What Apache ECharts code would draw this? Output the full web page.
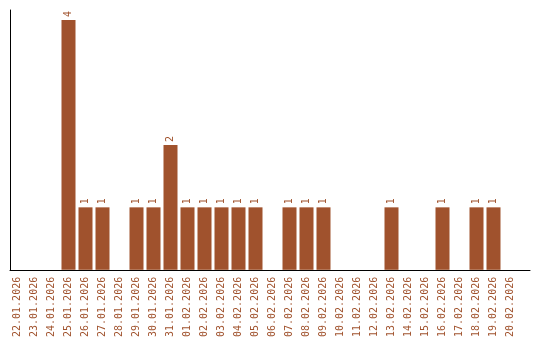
<!DOCTYPE html>
<html><head><meta charset="utf-8">
<script src="https://cdn.jsdelivr.net/npm/echarts@6/dist/echarts.min.js"></script>
<style>html,body{margin:0;padding:0;background:#fff}#c{width:540px;height:340px}</style>
</head><body><div id="c"></div>
<script>
const categories = ["22.01.2026","23.01.2026","24.01.2026","25.01.2026","26.01.2026","27.01.2026","28.01.2026","29.01.2026","30.01.2026","31.01.2026","01.02.2026","02.02.2026","03.02.2026","04.02.2026","05.02.2026","06.02.2026","07.02.2026","08.02.2026","09.02.2026","10.02.2026","11.02.2026","12.02.2026","13.02.2026","14.02.2026","15.02.2026","16.02.2026","17.02.2026","18.02.2026","19.02.2026","20.02.2026"];
const values = [0,0,0,4,1,1,0,1,1,2,1,1,1,1,1,0,1,1,1,0,0,0,1,0,0,1,0,1,1,0];
const color = '#A0522D';
const chart = echarts.init(document.getElementById('c'), null, {renderer:'canvas'});
chart.setOption({
  animation:false,
  grid:[{left:9,right:21,top:10,bottom:70},{left:10,right:10,top:10,bottom:70}],
  xAxis:[{type:'category',data:categories,gridIndex:0,
    axisLine:{show:false},axisTick:{show:false},
    axisLabel:{rotate:90,interval:0,color:color,fontFamily:'DejaVu Sans Mono',fontSize:10,margin:7}},
    {type:'value',gridIndex:1,min:0,max:1,axisLine:{show:true,lineStyle:{color:'#000',width:1}},
    axisTick:{show:false},axisLabel:{show:false},splitLine:{show:false}}],
  yAxis:[{type:'value',gridIndex:0,min:0,max:4.16,axisLine:{show:false},
    axisTick:{show:false},axisLabel:{show:false},splitLine:{show:false}},
    {type:'value',gridIndex:1,min:0,max:1,axisLine:{show:true,lineStyle:{color:'#000',width:1}},
    axisTick:{show:false},axisLabel:{show:false},splitLine:{show:false}}],
  series:[{type:'bar',data:values,xAxisIndex:0,yAxisIndex:0,barCategoryGap:'17.6%',itemStyle:{color:color},
    label:{show:true,position:'top',rotate:90,align:'left',verticalAlign:'middle',distance:3,
      color:color,fontFamily:'DejaVu Sans Mono',fontSize:10,
      formatter:p=>p.value?String(p.value):''}}]
});
</script></body></html>
